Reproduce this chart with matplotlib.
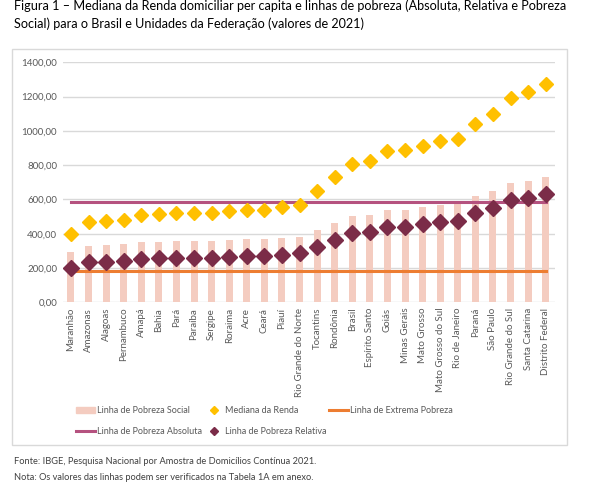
import matplotlib.pyplot as plt
import matplotlib.patches as mpatches
from matplotlib.lines import Line2D
import numpy as np

# dados
uf = ['Maranhão', 'Amazonas', 'Alagoas', 'Pernambuco', 'Amapá', 'Bahia', 'Pará',
      'Paraíba', 'Sergipe', 'Roraima', 'Acre', 'Ceará', 'Piauí', 'Rio Grande do Norte',
      'Tocantins', 'Rondônia', 'Brasil', 'Espírito Santo', 'Goiás', 'Minas Gerais',
      'Mato Grosso', 'Mato Grosso do Sul', 'Rio de Janeiro', 'Paraná', 'São Paulo',
      'Rio Grande do Sul', 'Santa Catarina', 'Distrito Federal']
mediana = [398, 467, 472, 480, 509, 515, 519, 521, 523, 531, 538, 540, 554, 568,
           649, 731, 805, 824, 885, 887, 912, 939, 953, 1042, 1100, 1194, 1225, 1274]
relativa = [198, 233, 235, 239, 253, 257, 257, 259, 259, 266, 270, 270, 278, 286,
            323, 365, 402, 410, 439, 441, 457, 468, 476, 519, 548, 595, 610, 634]
social = [295, 330, 334, 338, 352, 354, 356, 358, 359, 363, 367, 369, 375, 381,
          422, 463, 502, 511, 540, 540, 556, 566, 578, 618, 648, 696, 708, 733]
absoluta = 583
extrema = 183

plt.rcParams['font.family'] = ['Lato', 'DejaVu Sans']
W, H = 600, 495
fig = plt.figure(figsize=(W / 100, H / 100), dpi=100, facecolor='w')

# moldura do gráfico
fig.patches.append(mpatches.Rectangle((12 / W, 1 - 445 / H), 555 / W, 396 / H,
                                      transform=fig.transFigure, fill=False,
                                      edgecolor='#D9D9D9', lw=1))

ax = fig.add_axes([62.7 / W, 1 - 302.3 / H, (555 - 62.7) / W, 240 / H])
xx = np.arange(len(uf))
ax.bar(xx, social, width=0.4, color='#F4CCC0', zorder=2)
ax.plot(xx, [extrema] * len(xx), color='#ED7D31', lw=2.2, zorder=3)
ax.plot(xx, [absoluta] * len(xx), color='#B5527F', lw=2.2, zorder=3)
ax.plot(xx, mediana, ls='none', marker='D', ms=7, color='#FFC000', zorder=4)
ax.plot(xx, relativa, ls='none', marker='D', ms=8, color='#7B2C48', zorder=4)

ax.set_xlim(-0.47, 27.53)
ax.set_ylim(0, 1400)
ax.set_yticks(np.arange(0, 1401, 200))
ax.set_yticklabels(['%d,00' % v for v in range(0, 1401, 200)])
ax.set_xticks(xx)
ax.set_xticklabels(uf, rotation=90)
ax.tick_params(length=0, labelsize=7, labelcolor='#595959', pad=4)
ax.grid(axis='y', color='#D9D9D9', lw=1, zorder=0)
for s in ax.spines.values():
    s.set_visible(False)

# legenda
hs = [mpatches.Patch(color='#F4CCC0'),
      Line2D([], [], color='#B5527F', lw=2.2),
      Line2D([], [], ls='none', marker='D', ms=4.5, color='#FFC000'),
      Line2D([], [], ls='none', marker='D', ms=4.5, color='#7B2C48'),
      Line2D([], [], color='#ED7D31', lw=2.2)]
ls = ['Linha de Pobreza Social', 'Linha de Pobreza Absoluta', 'Mediana da Renda',
      'Linha de Pobreza Relativa', 'Linha de Extrema Pobreza']
leg = fig.legend(hs, ls, ncol=3, loc='upper left', bbox_to_anchor=(76 / W, 1 - 406 / H),
                 frameon=False, fontsize=6.5, handlelength=2.1, handletextpad=0.2,
                 columnspacing=0.3, labelspacing=1.3, borderaxespad=0, borderpad=0)
for t in leg.get_texts():
    t.set_color('#595959')

# título e notas
fig.text(14 / W, 1 - 15 / H,
         'Figura 1 – Mediana da Renda domiciliar per capita e linhas de pobreza (Absoluta, Relativa e Pobreza\n'
         'Social) para o Brasil e Unidades da Federação (valores de 2021)',
         fontsize=9.1, va='center', ha='left', color='#000000', linespacing=1.5)
fig.text(14 / W, 1 - 462 / H, 'Fonte: IBGE, Pesquisa Nacional por Amostra de Domicílios Contínua 2021.',
         fontsize=6.7, color='#404040', va='center')
fig.text(14 / W, 1 - 478 / H, 'Nota: Os valores das linhas podem ser verificados na Tabela 1A em anexo.',
         fontsize=6.7, color='#404040', va='center')

fig.savefig('out.png', dpi=100)
